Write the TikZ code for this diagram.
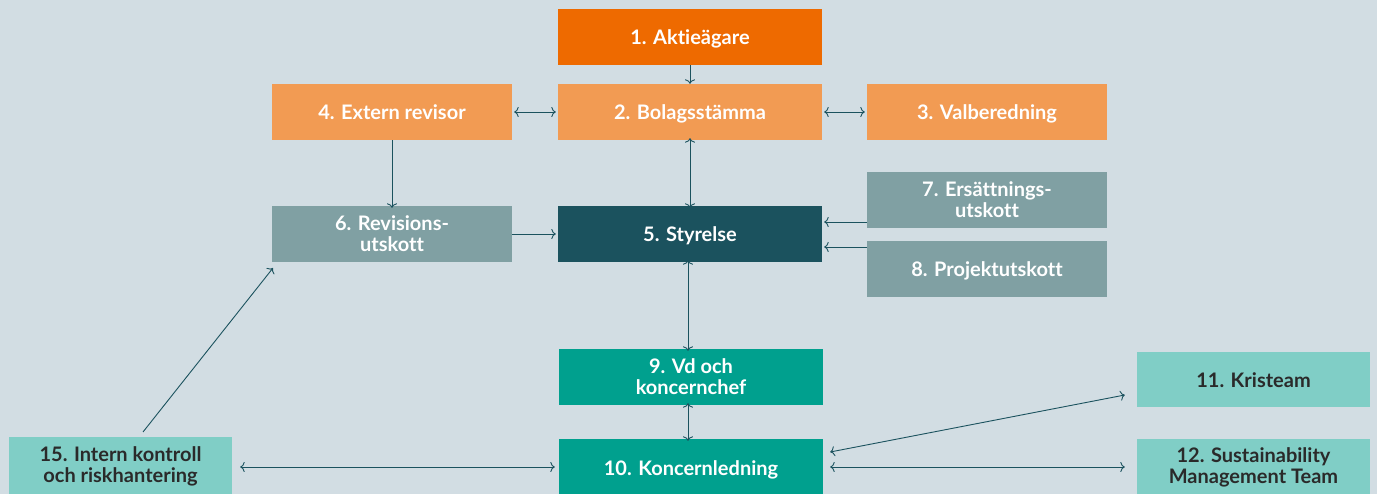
\documentclass[tikz,border=0pt]{standalone}
\usepackage{fontspec}
\setmainfont{Lato}[Ligatures={NoCommon}]
\usetikzlibrary{arrows.meta}
\definecolor{bg}{HTML}{D2DDE3}
\definecolor{cOrange}{HTML}{EE6A00}
\definecolor{cLight}{HTML}{F29B53}
\definecolor{cGrey}{HTML}{80A0A3}
\definecolor{cDark}{HTML}{1B525E}
\definecolor{cTeal}{HTML}{00A08E}
\definecolor{cMint}{HTML}{80CEC6}
\definecolor{cText}{HTML}{2A2A2A}
\definecolor{cLine}{HTML}{1B525E}
\tikzset{
  box/.style={minimum height=56pt, inner sep=0pt, align=center, font=\fontsize{20}{21}\selectfont\bfseries, text=white},
  oneline/.style={text height=20pt, text depth=4pt},
  conn/.style={draw=cLine, line width=0.9pt, -{To[length=4.5pt,width=10pt]}},
  bconn/.style={draw=cLine, line width=0.9pt, {To[length=4.5pt,width=10pt]}-{To[length=4.5pt,width=10pt]}},
}
\begin{document}
\begin{tikzpicture}[x=1pt,y=-1pt]
\fill[bg] (0,0) rectangle (1377,494);
\useasboundingbox (0,0) rectangle (1377,494);
\node[box, oneline, fill=cOrange, minimum width=264pt] (n1) at (690,37) {1. Aktieägare};
\node[box, oneline, fill=cLight, minimum width=264pt] (n2) at (690,112) {2. Bolagsstämma};
\node[box, oneline, fill=cLight, minimum width=240pt] (n4) at (392,112) {4. Extern revisor};
\node[box, oneline, fill=cLight, minimum width=240pt] (n3) at (987,112) {3. Valberedning};
\node[box, fill=cGrey, minimum width=240pt] (n6) at (392,234) {6. Revisions-\\utskott};
\node[box, oneline, fill=cDark, minimum width=264pt] (n5) at (690,234) {5. Styrelse};
\node[box, fill=cGrey, minimum width=240pt] (n7) at (987,200) {7. Ersättnings-\\utskott};
\node[box, oneline, fill=cGrey, minimum width=240pt] (n8) at (987,269) {8. Projektutskott};
\node[box, fill=cTeal, minimum width=264pt] (n9) at (691,377) {9. Vd och\\koncernchef};
\node[box, oneline, fill=cTeal, minimum width=264pt, minimum height=56pt] (n10) at (691,467) {10. Koncernledning};
\node[box, oneline, fill=cMint, text=cText, minimum width=233pt, minimum height=55pt] (n11) at (1253.5,379.5) {11. Kristeam};
\node[box, fill=cMint, text=cText, minimum width=233pt, minimum height=56pt] (n12) at (1253.5,467) {12. Sustainability\\Management Team};
\node[box, fill=cMint, text=cText, minimum width=223pt, minimum height=58pt] (n15) at (120.5,466) {15. Intern kontroll\\och riskhantering};
% connectors
\draw[conn] (n1.south) -- (n2.north);
\draw[bconn] ([xshift=2pt]n4.east) -- ([xshift=-2pt]n2.west);
\draw[bconn] ([xshift=2pt]n2.east) -- ([xshift=-2pt]n3.west);
\draw[bconn] ([yshift=2pt]n2.south) -- ([yshift=-2pt]n5.north);
\draw[conn] (n4.south) -- ([yshift=-2pt]n6.north);
\draw[conn] (n6.east) -- ([xshift=-2pt]n5.west);
\draw[conn] (n7.west |- 0,222) -- ([xshift=2pt]n5.east |- 0,222);
\draw[conn] (n8.west |- 0,247) -- ([xshift=2pt]n5.east |- 0,247);
\draw[bconn] ([yshift=2pt]n5.south -| 688,0) -- ([yshift=-2pt]n9.north -| 688,0);
\draw[bconn] ([yshift=2pt]n9.south -| 688,0) -- ([yshift=-2pt]n10.north -| 688,0);
\coordinate (c15) at (143,432);
\draw[conn] (c15) -- (273,268);
\draw[bconn] ([xshift=8pt]n15.east |- 0,467) -- ([xshift=-4pt]n10.west |- 0,467);
\draw[bconn] ([xshift=7pt]n10.east |- 0,452) -- ([xshift=-12pt]n11.west |- 0,395);
\draw[bconn] ([xshift=7pt]n10.east |- 0,467) -- ([xshift=-12pt]n12.west |- 0,467);
\end{tikzpicture}
\end{document}
